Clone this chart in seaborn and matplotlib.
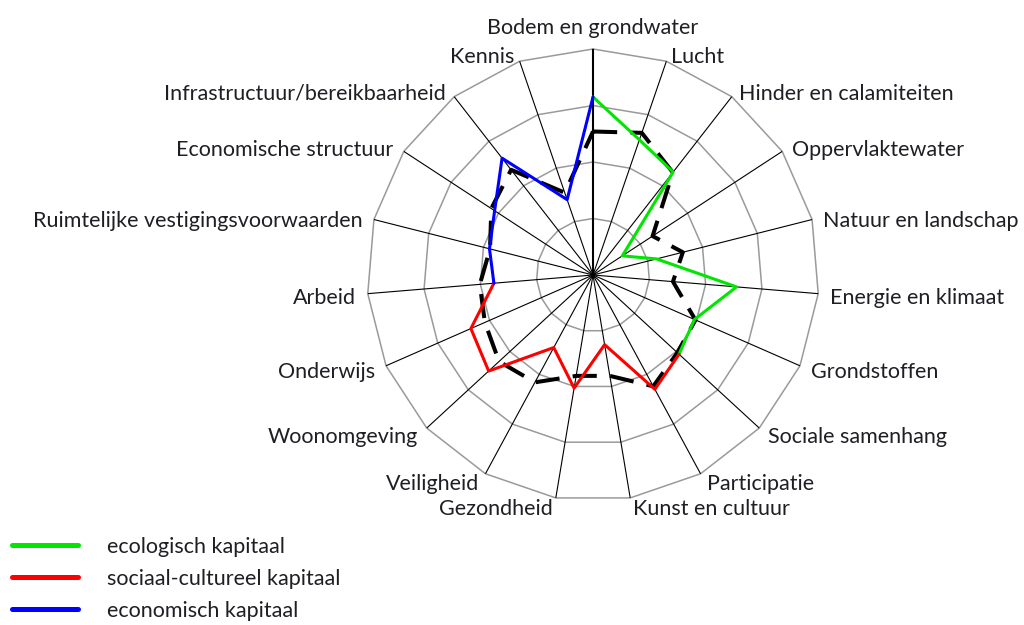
import numpy as np
import pandas as pd
import seaborn as sns
import matplotlib.pyplot as plt
from matplotlib.lines import Line2D

# categorieën, met de klok mee vanaf boven
categories = ["Bodem en grondwater", "Lucht", "Hinder en calamiteiten", "Oppervlaktewater",
              "Natuur en landschap", "Energie en klimaat", "Grondstoffen", "Sociale samenhang",
              "Participatie", "Kunst en cultuur", "Gezondheid", "Veiligheid", "Woonomgeving",
              "Onderwijs", "Arbeid", "Ruimtelijke vestigingsvoorwaarden", "Economische structuur",
              "Infrastructuur/bereikbaarheid", "Kennis"]

scores = [3.15, 2.53, 2.31, 0.62, 1.16, 2.55, 1.96, 2.07, 2.30, 1.25,
          2.03, 1.46, 2.51, 2.36, 1.76, 1.89, 2.08, 2.62, 1.41]
reference = [2.54, 2.66, 2.30, 1.26, 1.64, 1.42, 1.98, 2.03, 2.24, 1.81,
             1.81, 2.16, 2.26, 2.09, 2.01, 1.88, 2.15, 2.36, 1.54]

kapitaal = ["ecologisch kapitaal", "sociaal-cultureel kapitaal", "economisch kapitaal"]
first_point = [0, 7, 14]
last_point = [7, 14, 19]   # 19 = terug naar het eerste punt
ring_values = [1, 2, 3, 4]

colors = {"ecologisch kapitaal": "#00e600",
          "sociaal-cultureel kapitaal": "#ff0000",
          "economisch kapitaal": "#0000ff"}

sns.set_style("white")
plt.rcParams['font.family'] = ['Lato', 'DejaVu Sans']
text_color = "#1e1e24"
fs = 15.5

n = len(categories)
theta = np.linspace(0, 2 * np.pi, n, endpoint=False)
theta_c = np.append(theta, 2 * np.pi)
scores_c = np.append(scores, scores[0])
ref_c = np.append(reference, reference[0])
rmax = ring_values[-1]

fig = plt.figure(figsize=(10.24, 6.25), dpi=100)
ax = fig.add_axes([0.3584, 0.1984, 0.4414, 0.7232], projection='polar')
ax.set_theta_zero_location('N')
ax.set_theta_direction(-1)

# ringen (veelhoeken)
for r in ring_values:
    ax.plot(theta_c, [r] * len(theta_c), color="#9a9a9a", lw=1.1, clip_on=False, zorder=1)
# spaken
for i, t in enumerate(theta):
    ax.plot([t, t], [0, rmax], color="black", lw=1.5 if i == 0 else 0.8, zorder=2)

# referentielijn (gestreept)
df_ref = pd.DataFrame({"theta": theta_c, "waarde": ref_c})
sns.lineplot(data=df_ref, x="theta", y="waarde", sort=False, estimator=None, ax=ax,
             color="black", lw=2.9, linestyle=(0, (6, 3.3)), zorder=3)

handles = []
for name, a, b in zip(kapitaal, first_point, last_point):
    df = pd.DataFrame({"theta": theta_c[a:b + 1], "waarde": scores_c[a:b + 1]})
    sns.lineplot(data=df, x="theta", y="waarde", sort=False, estimator=None, ax=ax,
                 color=colors[name], lw=2.2, zorder=4)
    handles.append(Line2D([], [], color=colors[name], lw=3.6))

ax.set_ylim(0, rmax)
ax.set_xticks([])
ax.set_yticks([])
ax.grid(False)
ax.spines['polar'].set_visible(False)
ax.set_xlabel("")
ax.set_ylabel("")
if ax.get_legend():
    ax.get_legend().remove()

# labels rondom, iets naar buiten geschoven vanaf de buitenste hoek
for t, name in zip(theta, categories):
    s, c = np.sin(t), np.cos(t)
    if abs(s) < 0.05:
        ha, va = 'center', 'bottom'
        dx, dy = 0, 11
    else:
        ha = 'left' if s > 0 else 'right'
        va = 'center'
        dx = 10.5 * s + (1 if s > 0 else -1.5)
        dy = -(3.25 - 7.67 * c)
    ax.annotate(name, xy=(t, rmax), xytext=(dx, dy), textcoords='offset pixels',
                ha=ha, va=va, fontsize=fs, color=text_color, annotation_clip=False)

fig.legend(handles, kapitaal, loc='upper left', bbox_to_anchor=(0.0117, 0.141),
           frameon=False, fontsize=fs, handlelength=3.07, handletextpad=1.35,
           labelspacing=0.56, borderpad=0, borderaxespad=0, labelcolor=text_color)

fig.savefig("out.png", dpi=100)
